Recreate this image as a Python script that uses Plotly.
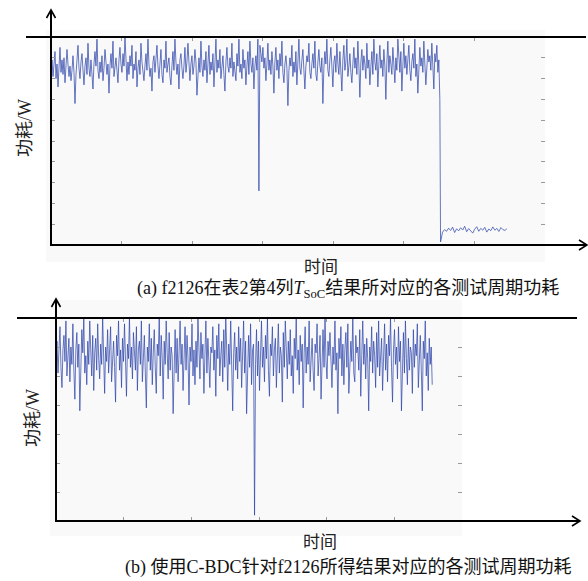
import plotly.graph_objects as go

W, H = 588, 581

# ---------------- data ----------------
# panel (a): power per test period, in y-tick units (0..10)
power_a_high = [
    8.4, 8.9, 8.1, 8.6, 9.3, 8.0, 8.7, 7.6, 8.8, 9.5, 8.3, 8.9, 8.2, 9.0, 7.8, 8.5, 9.4, 8.7, 8.1, 8.6,
    7.9, 8.4, 9.1, 8.3, 6.8, 8.2, 8.9, 9.6, 8.5, 8.0, 8.8, 9.2, 8.4, 7.7, 8.6, 9.0, 8.2, 9.7, 8.5, 8.1,
    8.9, 8.3, 7.5, 8.7, 9.3, 8.6, 9.9, 8.4, 8.0, 8.8, 8.3, 9.1, 7.9, 8.5, 9.4, 8.8, 8.2, 8.7, 7.3, 8.6,
    9.2, 8.5, 9.8, 8.1, 8.6, 9.0, 8.4, 7.8, 8.9, 9.5, 8.7, 8.3, 9.2, 8.6, 10.0, 8.5, 7.9, 8.8, 8.2, 9.1,
    8.6, 9.6, 8.0, 8.7, 8.4, 9.3, 7.6, 8.5, 8.9, 8.2, 9.7, 8.8, 8.3, 7.9, 8.6, 9.2, 8.4, 9.9, 8.7, 8.1,
    8.5, 7.4, 8.8, 9.1, 8.3, 8.9, 9.6, 8.6, 8.0, 8.7, 9.4, 8.2, 7.8, 8.9, 8.5, 9.8, 8.3, 8.7, 9.0, 8.1,
    7.7, 8.6, 9.3, 8.4, 9.9, 8.8, 8.2, 8.7, 7.5, 8.9, 9.2, 8.5, 8.0, 8.6, 9.5, 8.3, 8.8, 9.7, 8.4, 7.9,
    8.7, 9.1, 8.2, 8.6, 9.4, 8.8, 7.2, 8.5, 9.0, 8.3, 9.8, 8.6, 8.1, 8.9, 8.4, 9.3, 7.8, 8.7, 9.6, 8.2,
    8.8, 8.4, 9.2, 7.6, 8.6, 9.9, 8.3, 8.9, 8.5, 9.4, 8.0, 8.7, 9.1, 8.2, 7.4, 8.8, 9.5, 8.6, 8.3, 9.0,
    8.5, 9.7, 8.1, 8.8, 8.4, 7.9, 9.2, 8.6, 9.9, 8.3, 8.7, 8.0, 9.4, 8.5, 8.9, 7.7, 8.6, 9.3, 8.2, 9.8,
    8.7, 8.3, 9.0, 7.5, 8.6, 9.1, 8.4, 9.9, 2.6, 9.6, 9.2, 8.8, 9.5, 8.5, 9.0, 7.9, 8.7, 9.7, 8.4, 8.9,
    8.2, 9.3, 8.6, 7.3, 8.8, 9.5, 8.4, 8.9, 8.0, 9.2, 8.6, 9.8, 8.3, 7.8, 8.7, 9.1, 8.5, 6.7, 8.4, 9.0,
    8.6, 9.6, 8.1, 8.8, 8.3, 9.3, 7.7, 8.7, 9.9, 8.5, 8.2, 8.9, 9.4, 8.4, 7.5, 8.6, 9.1, 8.8, 9.7, 8.3,
    8.0, 8.7, 9.2, 8.5, 9.8, 8.2, 7.9, 8.8, 9.4, 8.6, 8.3, 9.0, 6.8, 8.5, 9.3, 8.7, 9.9, 8.4, 8.1, 8.9,
    9.5, 8.6, 7.6, 8.8, 9.1, 8.3, 9.7, 8.7, 8.2, 9.3, 8.5, 7.4, 8.9, 9.6, 8.4, 8.8, 9.9, 8.1, 8.6, 9.2,
    8.3, 7.8, 8.7, 9.5, 8.5, 9.0, 8.2, 9.8, 8.6, 7.1, 8.8, 9.4, 8.4, 9.1, 8.7, 8.0, 9.7, 8.5, 8.9, 7.7,
    8.6, 9.3, 8.2, 9.9, 8.8, 8.4, 9.2, 7.6, 8.7, 9.6, 8.5, 8.9, 8.1, 9.4, 8.6, 7.0, 8.8, 9.8, 8.3, 9.1,
    8.7, 8.2, 9.5, 8.6, 7.8, 9.0, 8.4, 9.9, 8.8, 8.3, 9.3, 7.4, 8.6, 9.7, 8.5, 9.1, 8.2, 8.9, 9.6, 8.4,
    7.9, 8.8, 9.2, 8.5, 9.9, 8.1, 8.7, 7.3, 8.9, 9.5, 8.6, 9.0, 8.3, 9.8, 8.7, 7.7, 8.5, 9.4, 8.8, 9.1,
    8.4, 9.7, 8.6, 7.5, 9.2, 8.8, 9.6, 8.3, 8.9, 7.0,
]
time_a_high_end = 5.51
power_a_low = [
    0.15, 0.62, 0.74, 0.66, 0.81, 0.70, 0.86, 0.60, 0.78, 0.68, 0.83, 0.72, 0.90, 0.64, 0.79, 0.70, 0.57,
    0.76, 0.88, 0.66, 0.80, 0.71, 0.85, 0.62, 0.77, 0.69, 0.87, 0.71, 0.80, 0.65, 0.84, 0.74, 0.70, 0.78,
]
time_a_low_start, time_a_low_end = 5.52, 6.46

# panel (b): power per test period, in y-tick units (0..7)
power_b = [
    5.6, 6.2, 5.1, 5.8, 6.7, 5.3, 4.6, 5.9, 6.4, 5.5, 6.9, 5.0, 5.7, 6.3, 4.8, 6.0, 5.4, 6.8, 5.2, 4.2,
    5.9, 6.5, 5.3, 6.1, 3.8, 5.5, 6.6, 5.8, 7.0, 5.1, 5.7, 4.7, 6.2, 5.4, 6.9, 5.9, 5.0, 6.4, 4.5, 5.8,
    6.3, 5.2, 6.8, 5.6, 4.9, 6.1, 5.4, 7.0, 5.8, 4.4, 6.0, 5.5, 6.6, 5.1, 5.9, 6.7, 4.8, 5.7, 6.2, 5.3,
    4.1, 6.4, 5.7, 6.9, 5.2, 5.9, 4.6, 6.3, 5.5, 6.8, 5.0, 4.3, 6.1, 5.6, 7.0, 5.3, 6.0, 4.9, 6.5, 5.8,
    5.2, 6.7, 4.5, 5.9, 6.2, 5.4, 6.9, 4.8, 5.7, 6.4, 5.1, 3.9, 6.0, 5.5, 6.8, 5.2, 6.3, 4.7, 5.8, 6.6,
    5.3, 4.4, 6.1, 5.7, 7.0, 5.0, 6.4, 5.6, 4.2, 6.2, 5.4, 6.9, 5.8, 4.9, 6.5, 5.2, 6.0, 5.7, 3.7, 5.9,
    6.6, 5.1, 6.3, 4.8, 5.8, 6.9, 5.4, 6.1, 4.5, 5.7, 6.7, 5.2, 6.4, 5.6, 4.0, 6.0, 5.5, 6.8, 5.0, 5.9,
    4.7, 6.2, 5.3, 7.0, 5.8, 4.9, 6.5, 5.6, 6.1, 4.4, 5.7, 6.9, 5.1, 6.3, 5.5, 4.6, 6.0, 5.8, 6.7, 5.2,
    5.9, 4.3, 6.4, 5.6, 6.8, 5.0, 5.7, 6.2, 4.8, 6.6, 5.3, 7.0, 5.9, 4.5, 6.1, 5.4, 6.9, 5.1, 3.8, 5.8,
    6.5, 5.2, 6.0, 4.9, 6.7, 5.5, 6.3, 4.6, 5.8, 6.9, 5.1, 6.2, 3.7, 5.6, 6.4, 5.3, 6.8, 4.7, 5.9, 6.1,
    0.2, 5.4, 6.6, 5.0, 6.2, 4.5, 5.8, 6.9, 5.3, 6.0, 4.8, 6.4, 5.6, 7.0, 5.2, 4.3, 6.1, 5.7, 6.7, 5.0,
    5.9, 6.3, 4.6, 5.5, 6.8, 5.1, 6.0, 5.7, 4.1, 6.5, 5.3, 6.9, 5.8, 4.9, 6.2, 5.4, 6.6, 5.0, 5.7, 4.4,
    6.3, 5.6, 7.0, 5.2, 5.9, 4.7, 6.4, 5.5, 6.1, 3.9, 5.8, 6.7, 5.1, 6.0, 5.4, 6.9, 4.8, 5.7, 6.3, 5.2,
    4.5, 6.1, 5.8, 6.8, 5.0, 5.6, 6.4, 4.2, 5.9, 6.6, 5.3, 7.0, 5.5, 4.9, 6.2, 5.7, 6.5, 5.1, 4.6, 6.0,
    5.4, 6.9, 5.2, 5.8, 3.7, 6.3, 5.6, 6.7, 5.0, 6.1, 4.7, 5.9, 6.5, 5.3, 6.8, 4.4, 5.7, 6.2, 5.5, 7.0,
    5.1, 4.8, 6.4, 5.8, 6.0, 5.2, 6.6, 4.3, 5.7, 6.9, 5.4, 6.1, 4.9, 6.3, 5.6, 3.8, 6.0, 5.5, 6.7, 5.1,
    6.2, 5.7, 4.6, 6.5, 5.3, 6.9, 5.0, 5.9, 6.3, 4.5, 5.6, 6.8, 5.2, 6.1, 4.8, 6.4, 5.7, 7.0, 5.3, 4.1,
    5.9, 6.6, 5.4, 6.0, 4.9, 6.7, 5.5, 6.2, 3.8, 5.8, 6.5, 5.1, 6.9, 5.6, 4.7, 6.3, 5.2, 6.0, 5.8, 4.4,
    6.6, 5.3, 6.1, 5.7, 6.8, 4.6, 5.9, 6.4, 5.2, 3.8, 6.2, 5.6, 6.9, 5.0, 5.8, 4.5, 6.3, 5.4, 6.0, 4.7,
]
time_b_end = 5.56

y_label = "功耗/W"
x_label = "时间"
caption_a = "(a) f2126在表2第4列<i>T</i><sub>SoC</sub>结果所对应的各测试周期功耗"
caption_b = "(b) 使用C-BDC针对f2126所得结果对应的各测试周期功耗"

# ---------------- figure ----------------
n_ah, n_al, n_b = len(power_a_high), len(power_a_low), len(power_b)
time_a = ([i * time_a_high_end / (n_ah - 1) for i in range(n_ah)] +
          [time_a_low_start + i * (time_a_low_end - time_a_low_start) / (n_al - 1) for i in range(n_al)])
power_a = power_a_high + power_a_low
time_b = [i * time_b_end / (n_b - 1) for i in range(n_b)]


def fx(px):
    return px / W


def fy(py):
    return 1 - py / H


line_style = dict(color="rgba(45,68,170,0.72)", width=1)
fig = go.Figure()
fig.add_trace(go.Scatter(x=time_a, y=power_a, mode="lines", line=line_style,
                         xaxis="x", yaxis="y", showlegend=False, hoverinfo="skip"))
fig.add_trace(go.Scatter(x=time_b, y=power_b, mode="lines", line=line_style,
                         xaxis="x2", yaxis="y2", showlegend=False, hoverinfo="skip"))

axis_common = dict(showgrid=False, zeroline=False, showline=False, ticks="inside",
                   ticklen=4, tickcolor="#9a9a9a", tickwidth=1, showticklabels=False,
                   mirror="ticks", fixedrange=True)

fig.update_layout(
    width=W, height=H,
    margin=dict(l=0, r=0, t=0, b=0),
    paper_bgcolor="white",
    plot_bgcolor="#f9f9f9",
    xaxis=dict(domain=[fx(51), fx(545)], range=[0, 7], anchor="y",
               tickvals=[1, 2, 3, 4, 5, 6], **axis_common),
    yaxis=dict(domain=[fy(245), fy(37)], range=[0, 10], anchor="x",
               tickvals=[1, 2, 3, 4, 5, 6, 7, 8, 9], **axis_common),
    xaxis2=dict(domain=[fx(56), fx(462)], range=[0, 6], anchor="y2",
                tickvals=[1, 2, 3, 4, 5], **axis_common),
    yaxis2=dict(domain=[fy(521), fy(318)], range=[0, 7], anchor="x2",
                tickvals=[1, 2, 3, 4, 5, 6], **axis_common),
)

shapes = []


def seg(x0, y0, x1, y1, color="black", width=2):
    shapes.append(dict(type="line", xref="paper", yref="paper",
                       x0=fx(x0), y0=fy(y0), x1=fx(x1), y1=fy(y1),
                       line=dict(color=color, width=width)))


def rect(x0, y0, x1, y1, color):
    shapes.append(dict(type="rect", xref="paper", yref="paper", layer="below",
                       x0=fx(x0), y0=fy(y0), x1=fx(x1), y1=fy(y1),
                       fillcolor=color, line=dict(width=0)))


def chevron(pts, width=1.6):
    path = "M " + " L ".join(f"{fx(a):.5f},{fy(b):.5f}" for a, b in pts)
    shapes.append(dict(type="path", xref="paper", yref="paper", path=path,
                       line=dict(color="black", width=width)))


# faint gray background of original plot panels
rect(46, 30, 545, 262, "#f9f9f9")
rect(50, 300, 462, 536, "#f9f9f9")

# panel (a) frame
seg(26, 37, 586, 37)            # top rule
seg(51, 246, 51, 11)            # y axis
seg(50, 245, 586, 245)          # x axis
chevron([(46.5, 18), (51, 10), (55.5, 18)])
chevron([(579, 240), (587, 245), (579, 250)])

# panel (b) frame
seg(17, 318, 577, 318)
seg(56, 522, 56, 300)
seg(55, 521, 579, 521)
chevron([(51.5, 307), (56, 299), (60.5, 307)])
chevron([(572, 516), (580, 521), (572, 526)])

fig.update_layout(shapes=shapes)

cjk = "Noto Sans CJK SC"
serif_mix = "Liberation Serif, Noto Sans CJK SC"
annotations = [
    dict(text=y_label, x=fx(25), y=fy(128), textangle=-90,
         font=dict(family=serif_mix, size=18, color="#222")),
    dict(text=x_label, x=fx(321), y=fy(265),
         font=dict(family=cjk, size=17, color="#222")),
    dict(text=caption_a, x=fx(348), y=fy(289),
         font=dict(family=serif_mix, size=18, color="#111")),
    dict(text=y_label, x=fx(33), y=fy(418), textangle=-90,
         font=dict(family=serif_mix, size=18, color="#222")),
    dict(text=x_label, x=fx(320), y=fy(540),
         font=dict(family=cjk, size=17, color="#222")),
    dict(text=caption_b, x=fx(348), y=fy(567),
         font=dict(family=serif_mix, size=18, color="#111")),
]
for a in annotations:
    a.update(xref="paper", yref="paper", showarrow=False, xanchor="center", yanchor="middle")
fig.update_layout(annotations=annotations)

fig.write_html("out.html", config={"displayModeBar": False},
               post_script="document.body.style.margin='0';document.body.style.overflow='hidden';")
